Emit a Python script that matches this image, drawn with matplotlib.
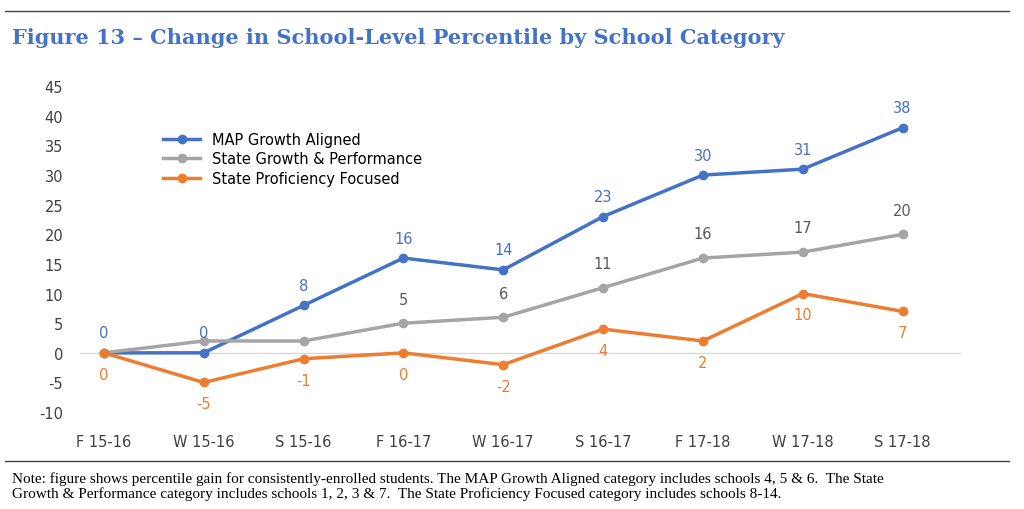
import matplotlib.pyplot as plt
from matplotlib.lines import Line2D

plt.rcParams['axes.unicode_minus'] = False

periods = ['F 15-16', 'W 15-16', 'S 15-16', 'F 16-17', 'W 16-17', 'S 16-17', 'F 17-18', 'W 17-18', 'S 17-18']
map_growth = [0, 0, 8, 16, 14, 23, 30, 31, 38]
state_growth = [0, 2, 2, 5, 6, 11, 16, 17, 20]
state_prof = [0, -5, -1, 0, -2, 4, 2, 10, 7]
gray_label_from = 3

blue = '#4472C4'
gray = '#A5A5A5'
orange = '#ED7D31'

fig = plt.figure(figsize=(10.24, 5.10), dpi=100)
fig.add_artist(Line2D([0.005, 0.985], [0.977, 0.977], color='#444444', lw=1))
fig.add_artist(Line2D([0.005, 0.985], [0.094, 0.094], color='#444444', lw=1))
fig.text(0.012, 0.925, 'Figure 13 \u2013 Change in School-Level Percentile by School Category',
         family='DejaVu Serif', fontsize=15, fontweight='bold', color=blue, va='center')
fig.text(0.012, 0.075, 'Note: figure shows percentile gain for consistently-enrolled students. The MAP Growth Aligned category includes schools 4, 5 & 6.  The State\n'
         'Growth & Performance category includes schools 1, 2, 3 & 7.  The State Proficiency Focused category includes schools 8-14.',
         family='Liberation Serif', fontsize=11, va='top', linespacing=1.2)

ax = fig.add_axes([0.078, 0.19, 0.86, 0.639])
x = range(len(periods))
ax.plot(x, map_growth, color=blue, lw=2.5, marker='o', ms=6, label='MAP Growth Aligned')
ax.plot(x, state_growth, color=gray, lw=2.5, marker='o', ms=6, label='State Growth & Performance')
ax.plot(x, state_prof, color=orange, lw=2.5, marker='o', ms=6, label='State Proficiency Focused')

for i in x:
    ax.annotate(str(map_growth[i]), (i, map_growth[i]), xytext=(0, 9), textcoords='offset points',
                ha='center', va='bottom', color=blue, fontsize=10.5)
    ax.annotate(str(state_prof[i]), (i, state_prof[i]), xytext=(0, -10), textcoords='offset points',
                ha='center', va='top', color=orange, fontsize=10.5)
    if i >= gray_label_from:
        ax.annotate(str(state_growth[i]), (i, state_growth[i]), xytext=(0, 12), textcoords='offset points',
                    ha='center', va='bottom', color='#595959', fontsize=10.5)

ax.set_xlim(-0.24, 8.58)
ax.set_ylim(-10, 45)
ax.set_yticks(range(-10, 50, 5))
ax.set_xticks(list(x))
ax.set_xticklabels(periods)
for s in ['top', 'right', 'left', 'bottom']:
    ax.spines[s].set_visible(False)
ax.axhline(0, color='#D9D9D9', lw=1, zorder=0)
ax.tick_params(length=0, labelsize=10.5, colors='#404040')
ax.tick_params(axis='x', pad=16)
ax.tick_params(axis='y', pad=12)
ax.legend(loc='upper left', bbox_to_anchor=(0.08, 0.9), frameon=False, fontsize=10.5,
          handlelength=2.5, labelspacing=0.3)
fig.savefig('out.png')
